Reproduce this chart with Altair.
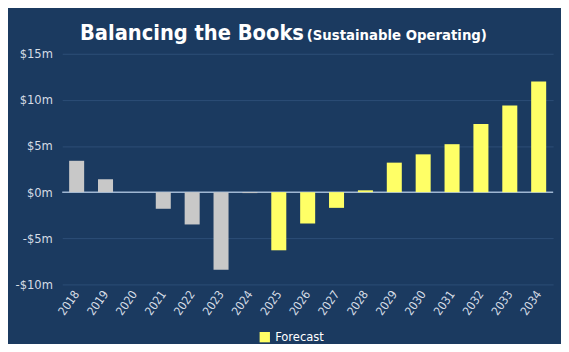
import altair as alt
import pandas as pd

years = ["2018", "2019", "2020", "2021", "2022", "2023", "2024", "2025", "2026",
         "2027", "2028", "2029", "2030", "2031", "2032", "2033", "2034"]
values = [3.4, 1.4, 0.0, -1.8, -3.5, -8.4, -0.1, -6.3, -3.4,
          -1.7, 0.2, 3.2, 4.1, 5.2, 7.4, 9.4, 12.0]
kinds = ["Actual", "Actual", "Actual", "Actual", "Actual", "Actual", "Actual",
         "Forecast", "Forecast", "Forecast", "Forecast", "Forecast", "Forecast",
         "Forecast", "Forecast", "Forecast", "Forecast"]
y_ticks = [-10, -5, 0, 5, 10, 15]
title_text = "Balancing the Books"
subtitle_text = "(Sustainable Operating)"

df = pd.DataFrame({"year": years, "value": values, "kind": kinds})

FONT = "'DejaVu Sans Condensed', 'Liberation Sans Narrow', 'Roboto Condensed', Roboto, sans-serif"
BG = "#1b3a60"
LABEL = "#d6dde6"

bars = alt.Chart(df).mark_bar().encode(
    x=alt.X("year:N", sort=years,
            scale=alt.Scale(paddingInner=0.48, paddingOuter=0.24),
            axis=alt.Axis(title=None, labelAngle=-55, labelAlign="right",
                          labelBaseline="middle", ticks=False, domain=False,
                          labelPadding=7, labelFontSize=12, grid=False)),
    y=alt.Y("value:Q", scale=alt.Scale(domain=[-10, 15], nice=False),
            axis=alt.Axis(title=None, values=y_ticks, ticks=False, domain=False,
                          labelPadding=10, labelFontSize=13,
                          labelExpr="datum.value < 0 ? '-$' + abs(datum.value) + 'm' : '$' + datum.value + 'm'")),
    color=alt.Color("kind:N",
                    scale=alt.Scale(domain=["Actual", "Forecast"],
                                    range=["#c8c8c8", "#ffff66"]),
                    legend=alt.Legend(values=["Forecast"], title=None, orient="none",
                                      legendX=199, legendY=281, direction="horizontal",
                                      labelColor="#ffffff", labelFontSize=13,
                                      labelFont=FONT, symbolType="square",
                                      symbolSize=110, symbolStrokeWidth=0,
                                      symbolOpacity=1)),
)

zero = alt.Chart(pd.DataFrame({"z": [0]})).mark_rule(
    color="#9fb6d2", strokeWidth=1.5).encode(y="z:Q")

title = alt.Chart(pd.DataFrame({"t": [title_text]})).mark_text(
    align="left", baseline="alphabetic", fontSize=22, fontWeight="bold",
    color="#ffffff", font=FONT).encode(x=alt.value(18), y=alt.value(-14), text="t:N")

subtitle = alt.Chart(pd.DataFrame({"t": [subtitle_text]})).mark_text(
    align="left", baseline="alphabetic", fontSize=15, fontWeight="bold",
    color="#ffffff", font=FONT).encode(x=alt.value(248), y=alt.value(-14), text="t:N")

chart = alt.layer(zero, bars, title, subtitle).properties(
    width=498, height=234,
    padding={"left": 55, "top": 44, "right": 8, "bottom": 58},
    autosize=alt.AutoSizeParams(type="none"),
    background=BG,
).configure_view(strokeWidth=0).configure_axis(
    gridColor="#2d4e77", labelColor=LABEL, labelFont=FONT
)

chart.save("out.html", embed_options={"renderer": "svg", "actions": False})
